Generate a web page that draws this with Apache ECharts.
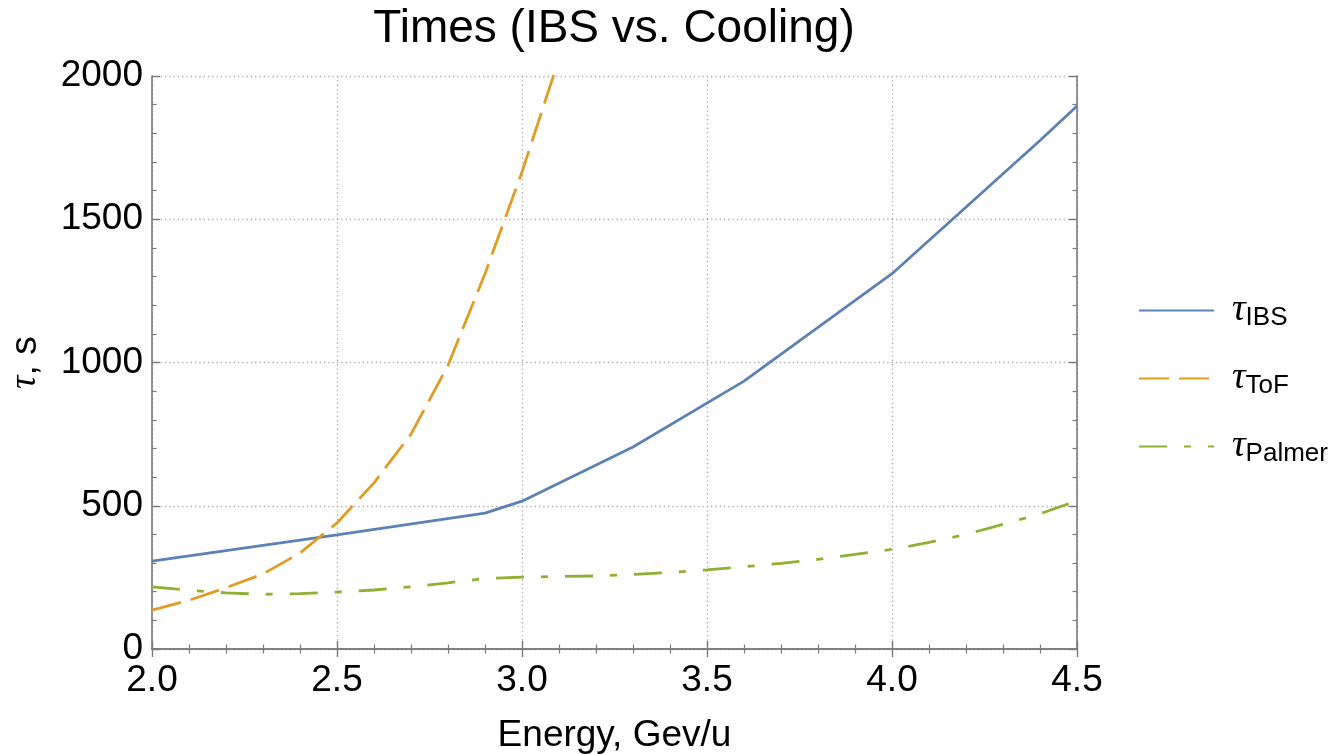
<!DOCTYPE html>
<html>
<head>
<meta charset="utf-8">
<script src="https://cdn.jsdelivr.net/npm/echarts@6/dist/echarts.min.js"></script>
<style>html,body{margin:0;padding:0;background:#fff}#c{width:1336px;height:754px}</style>
</head>
<body>
<div id="c"></div>
<script>
// ---- data ----
const energyIBS = [2.0, 2.5, 2.9, 3.0, 3.3, 3.6, 4.0, 4.4, 4.5];
const tauIBS    = [307, 398, 474, 516, 705, 935, 1310, 1775, 1895];

const energyToF = [2.0, 2.1, 2.2, 2.3, 2.4, 2.5, 2.6, 2.7, 2.8, 2.9, 3.0, 3.1];
const tauToF    = [136, 170, 214, 262, 335, 440, 580, 750, 990, 1310, 1665, 2060];

const energyPalmer = [2.0, 2.1, 2.2, 2.3, 2.4, 2.5, 2.6, 2.7, 2.8, 2.9, 3.0, 3.1, 3.2,
                      3.3, 3.4, 3.5, 3.6, 3.7, 3.8, 3.9, 4.0, 4.1, 4.2, 4.3, 4.4, 4.5];
const tauPalmer    = [217, 205, 196, 191, 193, 199, 206, 217, 231, 246, 251, 253, 255,
                      260, 267, 276, 287, 299, 313, 330, 348, 372, 400, 435, 472, 517];

const xTicks = [2.0, 2.5, 3.0, 3.5, 4.0, 4.5];
const yTicks = [0, 500, 1000, 1500, 2000];
const seriesNames = ['IBS', 'ToF', 'Palmer'];

const pairs = (xs, ys) => xs.map((x, i) => [x, ys[i]]);

const SANS = '"Liberation Sans", Arial, sans-serif';
const SERIF = '"Liberation Serif", "Times New Roman", serif';
const frame = { show: true, lineStyle: { color: '#7a7a7a', width: 1.6 } };
const tick = { show: true, inside: true, length: 8, lineStyle: { color: '#7a7a7a', width: 1.4 } };
const minor = { show: true, splitNumber: 5, length: 4.5, lineStyle: { color: '#7a7a7a', width: 1.2 } };
const grid = { show: true, lineStyle: { color: '#aaaaaa', width: 1.3, type: [1.3, 3] } };

const chart = echarts.init(document.getElementById('c'), null, { renderer: 'canvas' });
chart.setOption({
  backgroundColor: '#fff',
  animation: false,
  title: {
    text: 'Times (IBS vs. Cooling)',
    left: 609, top: 1, textAlign: 'center',
    textStyle: { fontFamily: SANS, fontSize: 46, fontWeight: 'normal', color: '#000' }
  },
  grid: { left: 152, right: 259, top: 76, bottom: 105, containLabel: false, outerBoundsMode: 'none' },
  legend: {
    orient: 'vertical', left: 1133, top: 285,
    itemWidth: 75, itemHeight: 14, itemGap: 27,
    data: seriesNames,
    itemStyle: { color: 'rgba(0,0,0,0)', borderColor: 'rgba(0,0,0,0)', borderWidth: 0 },
    formatter: n => '{t|τ}{s|' + n + '}',
    textStyle: {
      rich: {
        t: { fontFamily: SERIF, fontStyle: 'italic', fontSize: 38, lineHeight: 40, color: '#000', padding: [0, 0, 0, 13] },
        s: { fontFamily: SANS, fontSize: 26, lineHeight: 26, color: '#000', padding: [15, 0, 0, 0] }
      }
    }
  },
  xAxis: [
    {
      type: 'value', position: 'bottom', min: 2, max: 4.5, interval: 0.5,
      axisLine: frame, axisTick: tick, minorTick: minor, splitLine: grid,
      axisLabel: { fontFamily: SANS, fontSize: 37, color: '#000', margin: 13,
                   formatter: v => (xTicks.includes(+v.toFixed(1)) ? v.toFixed(1) : '') },
      name: 'Energy, Gev/u', nameLocation: 'middle', nameGap: 68,
      nameTextStyle: { fontFamily: SANS, fontSize: 37, color: '#000' }
    },
    {
      type: 'value', position: 'top', min: 2, max: 4.5, interval: 0.5,
      axisLine: frame, axisTick: tick, minorTick: minor, splitLine: { show: false },
      axisLabel: { show: false }
    }
  ],
  yAxis: [
    {
      type: 'value', position: 'left', min: 0, max: 2000, interval: 500,
      axisLine: frame, axisTick: tick, minorTick: minor, splitLine: grid,
      axisLabel: { fontFamily: SANS, fontSize: 37, color: '#000', margin: 9,
                   formatter: v => (yTicks.includes(v) ? String(v) : '') },
      name: '{t|τ}{n|, s}', nameLocation: 'middle', nameGap: 108,
      nameTextStyle: {
        rich: {
          t: { fontFamily: SERIF, fontStyle: 'italic', fontSize: 37, color: '#000' },
          n: { fontFamily: SANS, fontSize: 37, color: '#000' }
        }
      }
    },
    {
      type: 'value', position: 'right', min: 0, max: 2000, interval: 500,
      axisLine: frame, axisTick: tick, minorTick: minor, splitLine: { show: false },
      axisLabel: { show: false }
    }
  ],
  series: [
    {
      name: 'IBS', type: 'line', xAxisIndex: 0, yAxisIndex: 0, symbol: 'none', clip: true,
      data: pairs(energyIBS, tauIBS),
      itemStyle: { color: '#5E81B5' },
      lineStyle: { color: '#5E81B5', width: 2.8 }
    },
    {
      name: 'ToF', type: 'line', xAxisIndex: 0, yAxisIndex: 0, symbol: 'none', clip: true,
      data: pairs(energyToF, tauToF),
      itemStyle: { color: '#E19C24' },
      lineStyle: { color: '#E19C24', width: 2.8, type: [30, 10] }
    },
    {
      name: 'Palmer', type: 'line', xAxisIndex: 0, yAxisIndex: 0, symbol: 'none', clip: true,
      data: pairs(energyPalmer, tauPalmer),
      itemStyle: { color: '#8FB032' },
      lineStyle: { color: '#8FB032', width: 2.8, type: [28, 17, 7, 17] }
    }
  ]
});
</script>
</body>
</html>
